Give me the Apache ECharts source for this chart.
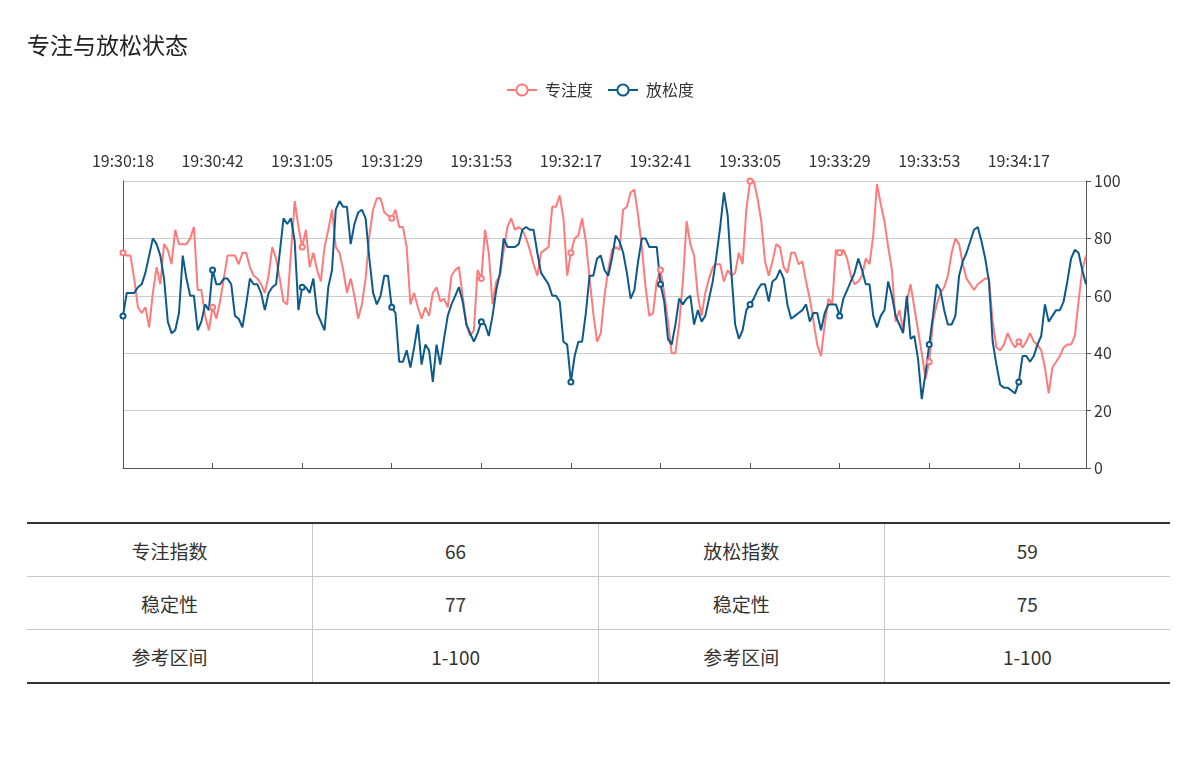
<!DOCTYPE html>
<html>
<head>
<meta charset="utf-8">
<script src="https://cdn.jsdelivr.net/npm/echarts@6/dist/echarts.min.js"></script>
<style>
html,body{margin:0;padding:0;background:#fff;width:1200px;height:757px;overflow:hidden;font-family:"Noto Sans CJK SC","Noto Sans",sans-serif;}
#chart{position:absolute;left:0;top:0;width:1200px;height:500px;}
#tbl{position:absolute;left:27px;top:522px;width:1143px;border-top:2px solid #333;border-bottom:2px solid #333;}
#tbl table{width:100%;border-collapse:collapse;table-layout:fixed;}
#tbl td{text-align:center;font-size:19px;color:#333;height:52px;padding:0;border-right:1px solid #c8c8c8;border-bottom:1px solid #c8c8c8;}
#tbl td:last-child{border-right:none;}
#tbl tr:last-child td{border-bottom:none;}
</style>
</head>
<body>
<div id="chart"></div>
<div id="tbl">
<table>
<tr><td>专注指数</td><td>66</td><td>放松指数</td><td>59</td></tr>
<tr><td>稳定性</td><td>77</td><td>稳定性</td><td>75</td></tr>
<tr><td>参考区间</td><td>1-100</td><td>参考区间</td><td>1-100</td></tr>
</table>
</div>
<script>
var tickLabels = ['19:30:18','19:30:42','19:31:05','19:31:29','19:31:53','19:32:17','19:32:41','19:33:05','19:33:29','19:33:53','19:34:17'];

var focus = [
75,74,74,66,56,54,56,49,61,70,
64,78,76,71,83,78,78,78,80,84,
62,62,53,48,56,52,58,66,74,74,
74,71,75,75,70,67,66,64,61,67,
77,73,66,58,57,75,93,84,77,83,
70,75,69,65,77,83,90,77,75,69,
61,66,60,52,57,66,81,90,94,94,
89,88,87,90,84,84,77,57,61,56,
52,56,53,61,63,58,59,56,67,69,
70,60,50,46,48,69,66,83,75,57,
65,67,76,84,87,83,84,83,80,76,
71,67,75,76,77,91,91,95,87,67,
75,80,81,87,79,66,54,44,47,60,
69,76,77,76,90,91,96,97,88,77,
63,53,54,65,69,61,51,40,40,50,
65,86,78,74,60,53,61,66,70,71,
71,65,69,67,68,75,71,90,100,100,
94,86,72,67,72,78,77,70,68,75,
75,71,72,65,59,51,43,39,50,59,
57,76,75,76,73,67,64,65,67,73,
71,81,99,92,86,77,69,51,55,48,
58,64,56,48,40,31,37,51,57,61,
63,67,75,80,78,71,66,64,62,64,
65,66,66,51,42,41,43,47,44,42,
44,42,44,47,44,43,41,35,26,35,
37,39,42,43,43,46,58,69,74
];

var relax = [
53,61,61,61,63,64,68,74,80,78,
74,66,51,47,48,54,74,66,60,60,
48,51,57,55,69,64,64,66,66,64,
53,52,49,57,66,64,64,61,55,61,
63,64,75,87,85,87,79,55,63,63,
61,66,54,51,48,63,69,90,93,91,
91,78,85,89,90,87,73,61,57,60,
67,67,56,54,37,37,41,35,42,50,
36,43,41,30,43,36,45,53,57,60,
63,58,50,47,44,47,51,50,46,53,
62,68,80,77,77,77,78,83,84,83,
83,75,68,66,64,60,60,58,44,43,
30,39,44,44,54,67,67,73,74,69,
67,73,81,79,75,68,59,62,72,80,
80,77,77,77,64,58,45,43,50,59,
57,59,60,50,55,51,53,59,65,74,
84,96,88,68,50,45,48,55,57,59,
62,64,64,58,65,66,69,66,57,52,
53,54,55,57,51,54,54,48,54,57,
57,57,53,59,62,65,68,73,69,64,
64,53,49,53,55,65,60,53,50,47,
60,45,46,38,24,33,43,53,64,62,
55,50,50,53,67,72,75,79,83,84,
79,73,65,44,36,29,28,28,27,26,
30,39,39,37,39,43,46,57,51,53,
55,55,58,65,73,76,75,69,64
];

var STEP = 24;
function toSec(s){var p=s.split(':');return (+p[0])*3600+(+p[1])*60+(+p[2]);}
function toStr(t){function z(n){return (n<10?'0':'')+n;}return z(Math.floor(t/3600))+':'+z(Math.floor(t/60)%60)+':'+z(t%60);}
var categories = [];
for (var i = 0; i < focus.length; i++) {
  var k = Math.floor(i / STEP), r = i % STEP;
  if (r === 0 && k < tickLabels.length) { categories.push(tickLabels[k]); continue; }
  var t0 = toSec(tickLabels[Math.min(k, tickLabels.length - 1)]);
  var span = (k + 1 < tickLabels.length) ? (toSec(tickLabels[k + 1]) - t0) : STEP;
  categories.push(toStr(t0 + Math.round(r * span / STEP)));
}

var RED = '#ff7b7b', BLUE = '#0c5a8b';
var FONT = '"Noto Sans CJK SC","Noto Sans",sans-serif';
var chart = echarts.init(document.getElementById('chart'));
chart.setOption({
  animation: false,
  backgroundColor: 'transparent',
  title: {text: '专注与放松状态', left: 22, top: 29, padding: 5,
    textStyle: {fontSize: 23, fontWeight: 'normal', color: '#222', fontFamily: FONT}},
  legend: {top: 77, left: 'center', itemWidth: 30, itemHeight: 14, itemGap: 14,
    data: ['专注度', '放松度'],
    textStyle: {fontSize: 16, color: '#333', fontFamily: FONT, padding: [0, 0, 0, 3]}},
  grid: {left: 123, right: 114, top: 181, bottom: 32},
  xAxis: [
    {type: 'category', position: 'top', data: categories, boundaryGap: false,
     axisLine: {show: false}, axisTick: {show: false}, splitLine: {show: false},
     axisLabel: {interval: STEP - 1, fontSize: 16, color: '#333', margin: 12, fontFamily: FONT}},
    {type: 'category', position: 'bottom', data: categories, boundaryGap: false,
     axisLine: {show: true, lineStyle: {color: '#555'}},
     axisTick: {show: true, inside: true, interval: STEP - 1, length: 5, lineStyle: {color: '#555'}},
     axisLabel: {show: false}, splitLine: {show: false}}
  ],
  yAxis: [
    {type: 'value', position: 'right', min: 0, max: 100, interval: 20,
     axisLine: {show: true, lineStyle: {color: '#555'}},
     axisTick: {show: true, length: 5, lineStyle: {color: '#555'}},
     axisLabel: {fontSize: 16, color: '#333', fontFamily: FONT},
     splitLine: {show: true, lineStyle: {color: '#cccccc', width: 1}}},
    {type: 'value', position: 'left', min: 0, max: 100, interval: 20,
     axisLine: {show: true, lineStyle: {color: '#555'}},
     axisTick: {show: false}, axisLabel: {show: false}, splitLine: {show: false}}
  ],
  series: [
    {name: '专注度', type: 'line', xAxisIndex: 0, yAxisIndex: 0, data: focus,
     symbol: 'emptyCircle', symbolSize: 5,
     lineStyle: {width: 2, color: RED}, itemStyle: {color: RED, borderWidth: 1}},
    {name: '放松度', type: 'line', xAxisIndex: 0, yAxisIndex: 0, data: relax,
     symbol: 'emptyCircle', symbolSize: 5,
     lineStyle: {width: 2, color: BLUE}, itemStyle: {color: BLUE, borderWidth: 1}}
  ]
});
</script>
</body>
</html>
